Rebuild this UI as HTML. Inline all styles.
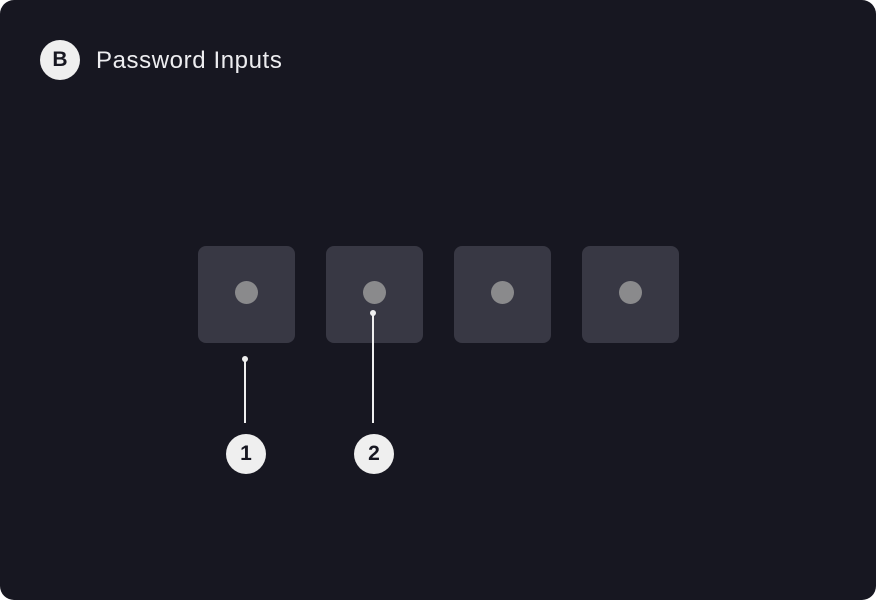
<!DOCTYPE html>
<html><head><meta charset="utf-8"><style>
html,body{margin:0;padding:0;background:#fff;}
#card{position:relative;width:876px;height:600px;background:#171721;border-radius:14px;overflow:hidden;font-family:"Liberation Sans",sans-serif;}
.box{position:absolute;top:246px;width:97px;height:97px;background:#383844;border-radius:8px;}
.dot{position:absolute;left:37px;top:35px;width:23px;height:23px;border-radius:50%;background:#8a8a8c;}
.badge{position:absolute;width:40px;height:40px;border-radius:50%;background:#efefef;color:#171721;font-weight:bold;font-size:21px;text-align:center;line-height:40px;}
.line{position:absolute;width:2px;background:#efefef;}
.pin{position:absolute;width:6px;height:6px;border-radius:50%;background:#efefef;}
</style></head><body>
<div id="card">
  <div class="badge" style="left:40px;top:40px;">B</div>
  <div style="position:absolute;left:96px;top:47px;font-size:24px;letter-spacing:0.6px;color:#ededf0;">Password Inputs</div>
  <div class="box" style="left:198px"><div class="dot"></div></div>
  <div class="box" style="left:326px"><div class="dot"></div></div>
  <div class="box" style="left:454px"><div class="dot"></div></div>
  <div class="box" style="left:582px"><div class="dot"></div></div>
  <div class="pin" style="left:242px;top:356px"></div>
  <div class="line" style="left:244px;top:359px;height:64px"></div>
  <div class="badge" style="left:226px;top:434px">1</div>
  <div class="pin" style="left:370px;top:310px"></div>
  <div class="line" style="left:372px;top:313px;height:110px"></div>
  <div class="badge" style="left:354px;top:434px">2</div>
</div>
</body></html>
